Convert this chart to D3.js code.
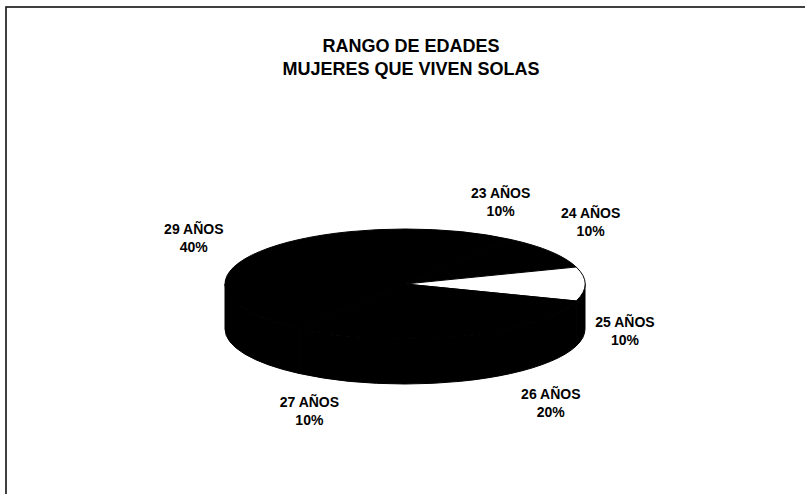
<!DOCTYPE html>
<html>
<head>
<meta charset="utf-8">
<script src="https://cdn.jsdelivr.net/npm/d3@7"></script>
<style>
  html, body { margin: 0; padding: 0; background: #fff; }
  svg { display: block; }
</style>
</head>
<body>
<div id="main"></div>
<script>
// data
const titleLines = ["RANGO DE EDADES", "MUJERES QUE VIVEN SOLAS"];
const categories = ["23 AÑOS", "24 AÑOS", "25 AÑOS", "26 AÑOS", "27 AÑOS", "29 AÑOS"];
const percents = [10, 10, 10, 20, 10, 40];
const topColors = ["#000", "#000", "#fff", "#000", "#000", "#000"];

const ctx = {
    W: 805,
    H: 494,
    cx: 405,
    cy: 284,
    rx: 180,
    ry: 55,
    depth: 45,
    font: "'Liberation Sans', Arial, sans-serif"
};

function pt(a, dy = 0) {
    return [ctx.cx + ctx.rx * Math.sin(a), ctx.cy - ctx.ry * Math.cos(a) + dy];
}

function topPath(d) {
    const p0 = pt(d.startAngle), p1 = pt(d.endAngle);
    const large = d.endAngle - d.startAngle > Math.PI ? 1 : 0;
    return `M${ctx.cx},${ctx.cy}L${p0}A${ctx.rx},${ctx.ry} 0 ${large} 1 ${p1}Z`;
}

function sidePath(d) {
    // only the front half of the wall shows
    const s = Math.max(d.startAngle, Math.PI / 2);
    const e = Math.min(d.endAngle, 3 * Math.PI / 2);
    if (e <= s) return null;
    const a = pt(s), b = pt(e), b2 = pt(e, ctx.depth), a2 = pt(s, ctx.depth);
    return `M${a}A${ctx.rx},${ctx.ry} 0 0 1 ${b}L${b2}A${ctx.rx},${ctx.ry} 0 0 0 ${a2}Z`;
}

const clamp = v => Math.max(-1, Math.min(1, v));

function createChart() {
    const svg = d3.select("#main").append("svg")
        .attr("width", ctx.W)
        .attr("height", ctx.H);

    // frame (right and bottom run off the page)
    svg.append("rect")
        .attr("x", 6).attr("y", 7)
        .attr("width", ctx.W + 20).attr("height", ctx.H + 20)
        .style("fill", "none")
        .style("stroke", "#111")
        .style("stroke-width", 1.6);

    svg.selectAll("text.title")
        .data(titleLines)
        .enter()
        .append("text")
        .attr("class", "title")
        .attr("x", 411)
        .attr("y", (d, i) => 52 + i * 23)
        .attr("text-anchor", "middle")
        .style("font-family", ctx.font)
        .style("font-weight", "bold")
        .style("font-size", "18px")
        .text(d => d);

    const data = categories.map((c, i) => ({ name: c, value: percents[i], color: topColors[i] }));
    const arcs = d3.pie()
        .value(d => d.value)
        .sort(null)
        .startAngle(0)
        .endAngle(2 * Math.PI)(data);

    const g = svg.append("g");

    g.selectAll("path.side")
        .data(arcs.filter(d => sidePath(d)))
        .enter()
        .append("path")
        .attr("class", "side")
        .attr("d", sidePath)
        .style("fill", "#000")
        .style("stroke", "#000")
        .style("stroke-width", 1);

    g.selectAll("path.top")
        .data(arcs)
        .enter()
        .append("path")
        .attr("class", "top")
        .attr("d", topPath)
        .style("fill", d => d.data.color)
        .style("stroke", "#000")
        .style("stroke-width", 1);

    // labels sit diagonally out from the middle of the slice wall
    const lab = svg.selectAll("g.label")
        .data(arcs)
        .enter()
        .append("g")
        .attr("class", "label")
        .attr("transform", d => {
            const m = (d.startAngle + d.endAngle) / 2;
            const [ax, ay] = pt(m, ctx.depth / 2);
            const x = ax + 40 * clamp(Math.sin(m) * 6);
            const y = ay - 52 * clamp((Math.cos(m) - 0.08) * 6);
            return `translate(${x},${y})`;
        });

    lab.append("text")
        .attr("y", -4)
        .attr("text-anchor", "middle")
        .style("font-family", ctx.font)
        .style("font-weight", "bold")
        .style("font-size", "14px")
        .text(d => d.data.name);

    lab.append("text")
        .attr("y", 14)
        .attr("text-anchor", "middle")
        .style("font-family", ctx.font)
        .style("font-weight", "bold")
        .style("font-size", "14px")
        .text(d => d.data.value + "%");
}

createChart();
</script>
</body>
</html>
